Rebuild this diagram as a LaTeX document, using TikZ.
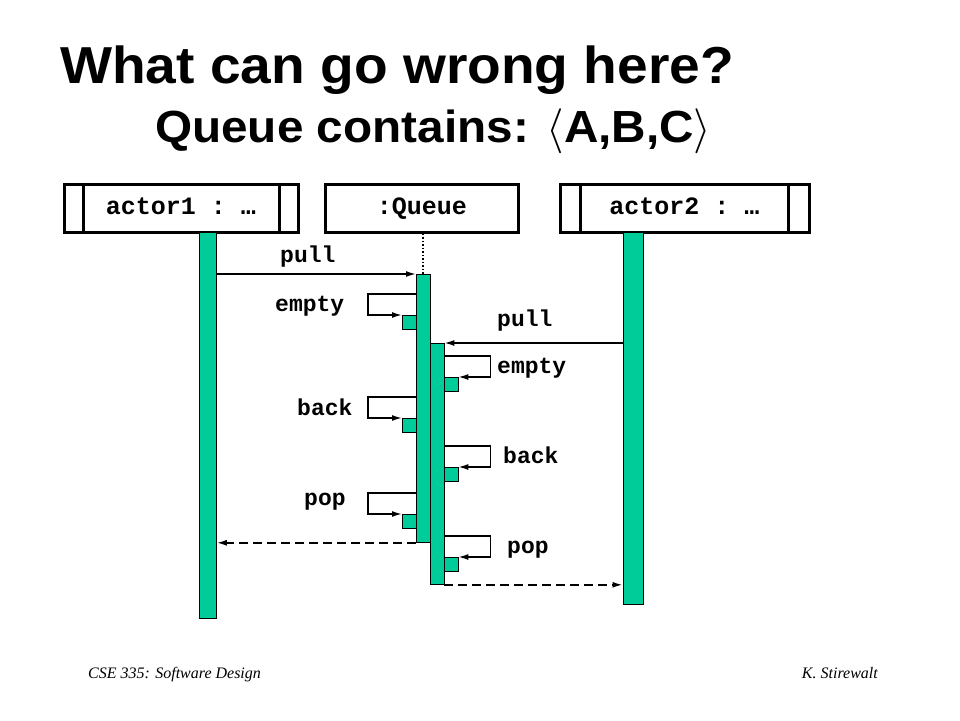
\RequirePackage{fix-cm}
\documentclass[tikz,border=0pt]{standalone}
\usepackage{fontspec}
\setmainfont{Liberation Serif}
\setsansfont{Liberation Sans}
\setmonofont{Liberation Mono}
\newfontfamily\titlefont{Liberation Sans}[FakeStretch=1.06]
\usetikzlibrary{arrows.meta}
\definecolor{bargreen}{RGB}{0,204,153}

\begin{document}
\begin{tikzpicture}[x=1pt,y=-1pt,
    head/.style={draw,line width=3pt,minimum width=#1,minimum height=48pt,inner sep=0pt,
                 text height=17pt,text depth=5pt,font=\fontsize{25}{25}\ttfamily\bfseries},
    bar/.style={draw,fill=bargreen,line width=0.8pt,inner sep=0pt,anchor=north west},
    act/.style={bar,minimum width=14pt,minimum height=14pt},
    msg/.style={line width=1.6pt,-{Latex[length=10pt,width=6pt]}},
    ret/.style={msg,dash pattern=on 9pt off 5pt},
    lbl/.style={anchor=base west,inner sep=0pt,font=\fontsize{23}{23}\ttfamily\bfseries}]
  \useasboundingbox (0,0) rectangle (960,720);

  % title
  \node[anchor=base west,inner sep=0pt,font=\fontsize{52}{52}\titlefont\bfseries] (t1) at (60,83) {What can go wrong here?};
  \node[anchor=base west,inner sep=0pt,font=\fontsize{45}{45}\titlefont\bfseries] (t2) at (155,142) {Queue contains: $\langle$A,B,C$\rangle$};

  % objects
  \node[head=234pt] (hd1) at (181,208) {actor1 : …};
  \node[head=193pt] (hd2) at (422,208) {:Queue};
  \node[head=249pt] (hd3) at (684.5,208) {actor2 : …};
  \draw[line width=3pt] ([xshift=21pt]hd1.north west) -- ([xshift=21pt]hd1.south west)
                        ([xshift=-20pt]hd1.north east) -- ([xshift=-20pt]hd1.south east);
  \draw[line width=3pt] ([xshift=22pt]hd3.north west) -- ([xshift=22pt]hd3.south west)
                        ([xshift=-22pt]hd3.north east) -- ([xshift=-22pt]hd3.south east);

  % lifelines
  \node[bar,minimum width=17pt,minimum height=386pt] (a1) at (199,232) {};
  \node[bar,minimum width=13.5pt,minimum height=268pt] (q1) at (416,274) {};
  \node[bar,minimum width=14pt,minimum height=241pt] (q2) at (429.5,343) {};
  \node[bar,minimum width=20.5pt,minimum height=372pt] (a2) at (622.5,232) {};
  \draw[dotted,line width=1.5pt] (q1.north |- hd2.south) -- (q1.north);

  % self calls
  \node[act] (e1) at (402,315) {};
  \node[act] (b1) at (402,418) {};
  \node[act] (p1) at (402,514) {};
  \node[act] (e2) at (443.5,377) {};
  \node[act] (b2) at (443.5,467) {};
  \node[act] (p2) at (443.5,557) {};

  % messages
  \draw[msg] (a1.east |- q1.north) -- (q1.north west);
  \draw[msg] (a2.west |- q2.north) -- (q2.north east);
  \foreach \b in {e1,b1,p1}
    \draw[msg] ([yshift=21pt]\b.north east) -- ++(-49,0) |- (\b.north west);
  \foreach \b in {e2,b2,p2}
    \draw[msg] ([yshift=21pt]\b.north west) -- ++(47,0) |- (\b.north east);
  \draw[ret] (q1.south west) -- (a1.east |- q1.south);
  \draw[ret] (q2.south east) -- (a2.west |- q2.south);

  % labels
  \node[lbl] (l1) at (280,262) {pull};
  \node[lbl] (l2) at (275,311) {empty};
  \node[lbl] (l3) at (497,326) {pull};
  \node[lbl] (l4) at (497,373) {empty};
  \node[lbl] (l5) at (297,415) {back};
  \node[lbl] (l6) at (503,463) {back};
  \node[lbl] (l7) at (304,505) {pop};
  \node[lbl] (l8) at (507,553) {pop};

  % footer
  \node[anchor=base west,inner sep=0pt,font=\fontsize{16}{16}\itshape] (f1) at (88,678) {CSE 335: Software Design};
  \node[anchor=base east,inner sep=0pt,font=\fontsize{16}{16}\itshape] (f2) at (878,678) {K. Stirewalt};
\end{tikzpicture}
\end{document}
